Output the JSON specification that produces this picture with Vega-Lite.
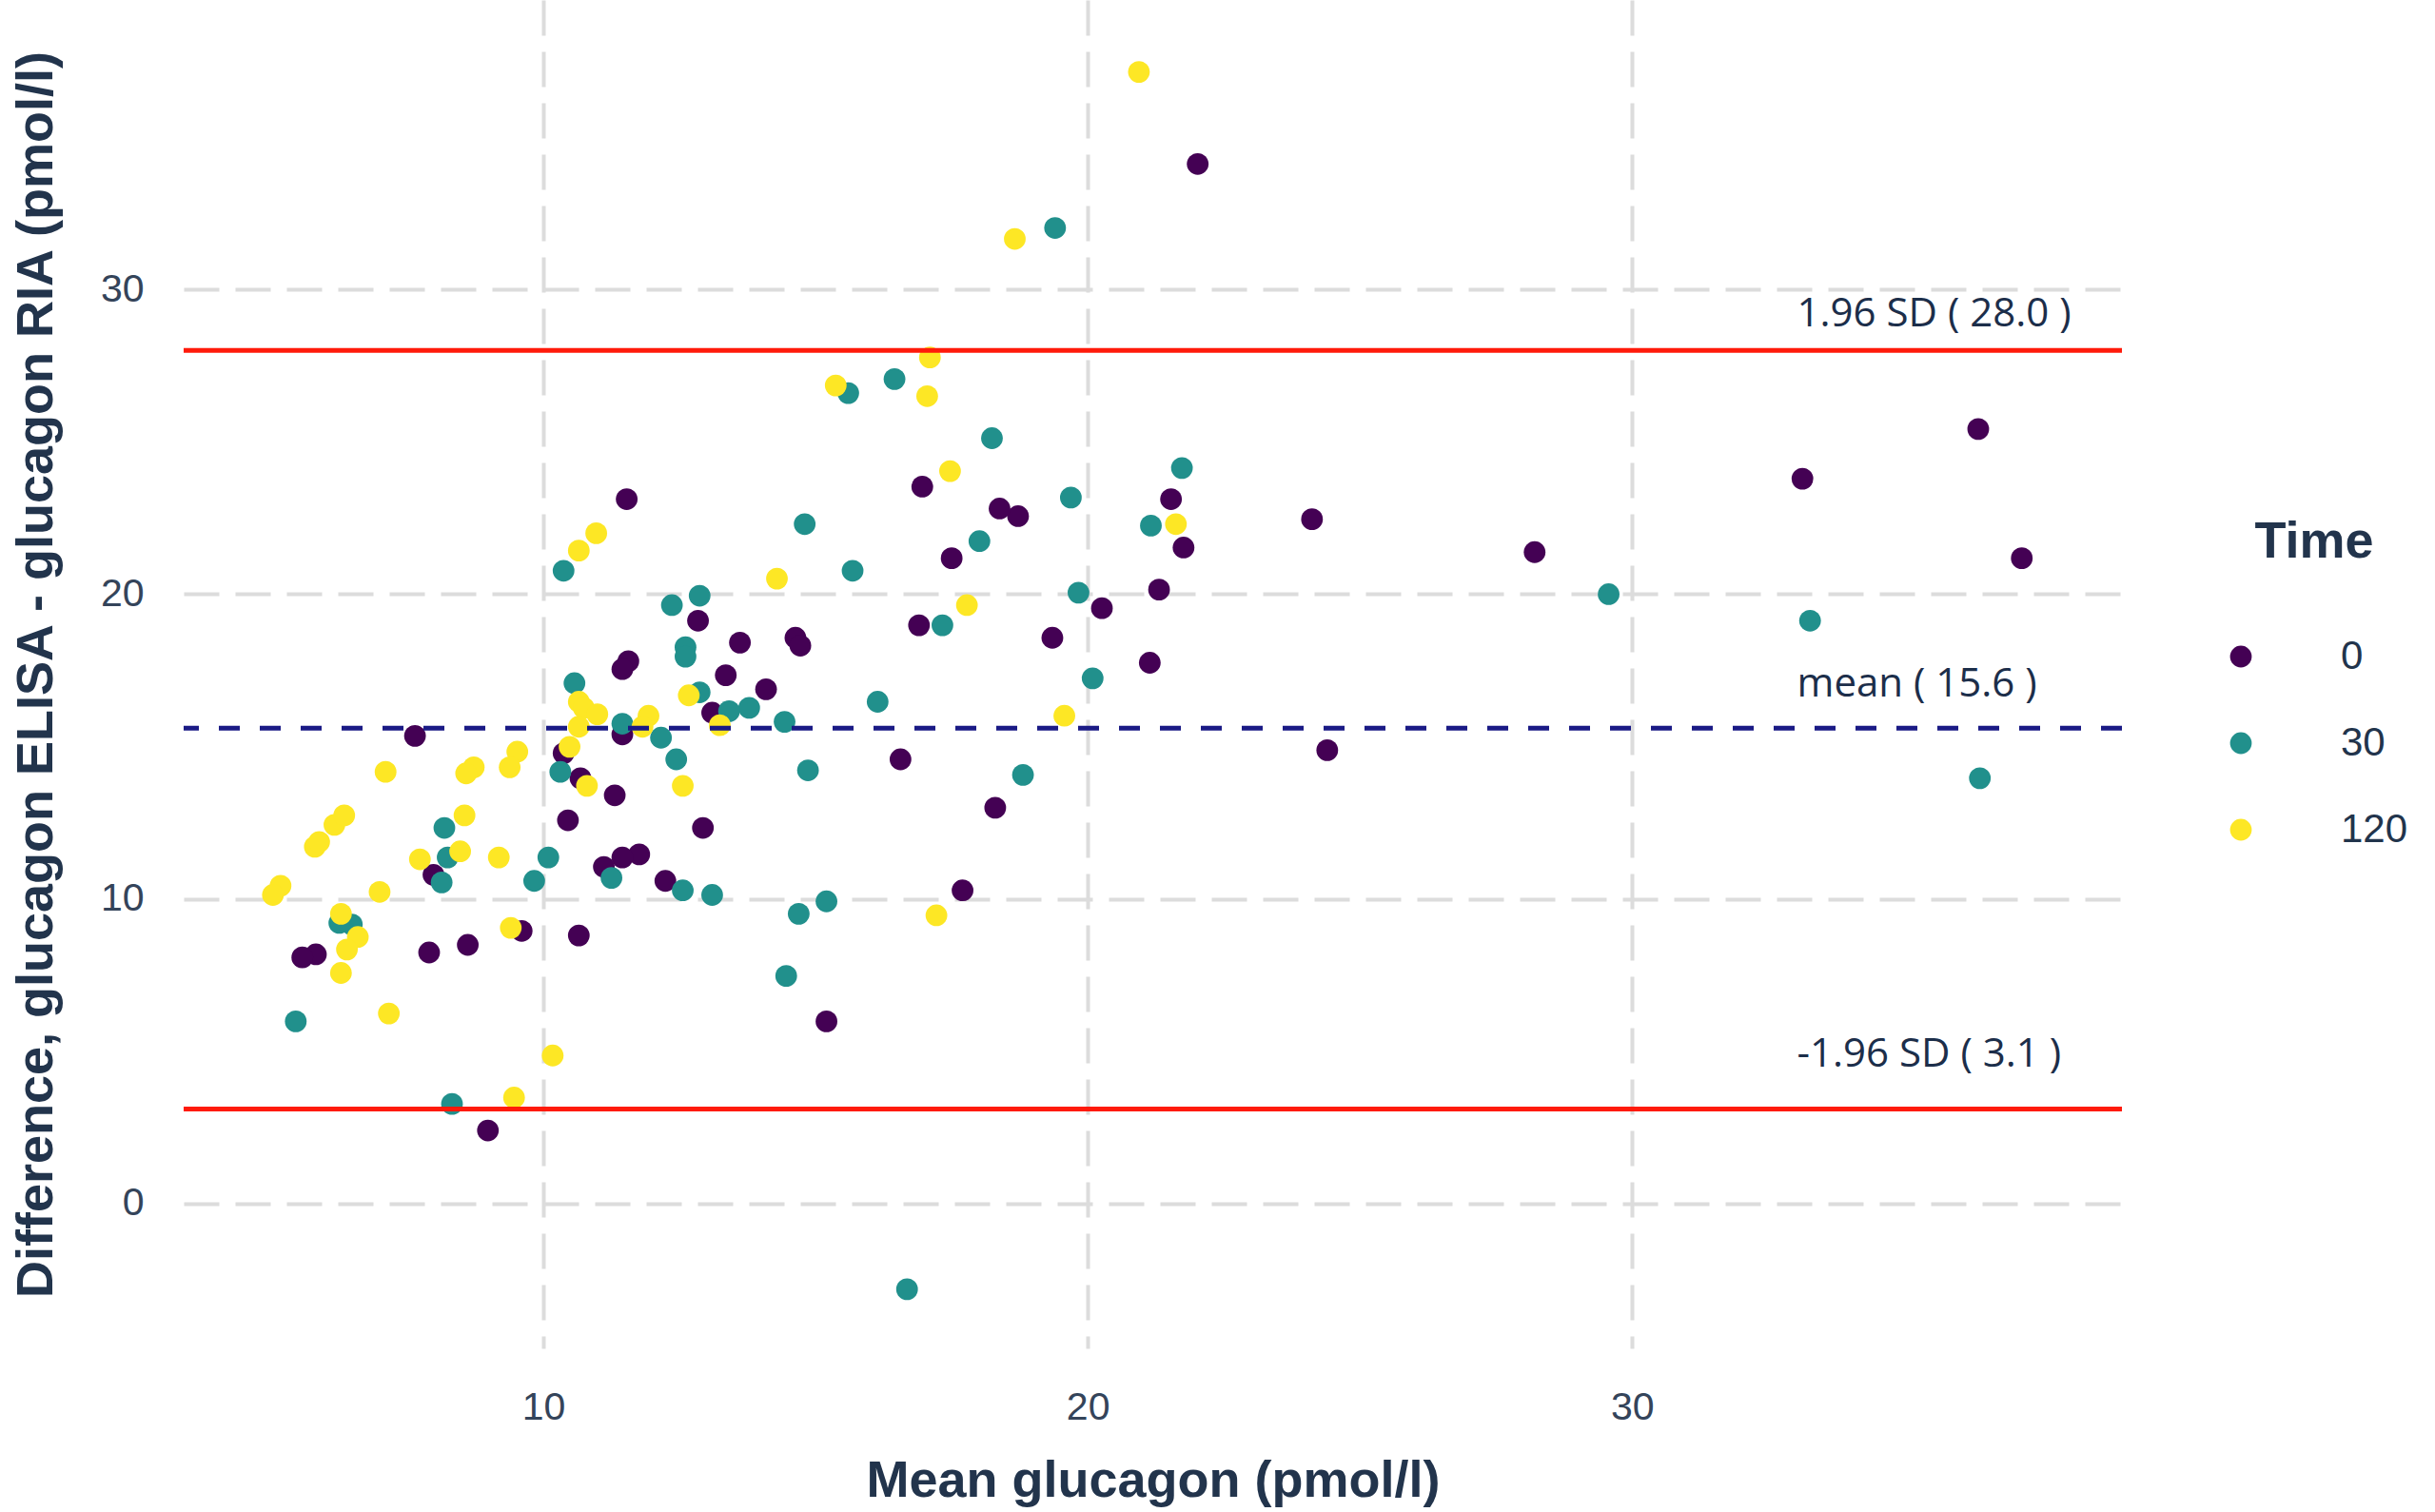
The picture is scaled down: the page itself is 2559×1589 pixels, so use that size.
{
  "$schema": "https://vega.github.io/schema/vega-lite/v6.json",
  "width": 2037,
  "height": 1417,
  "autosize": {"type": "none"},
  "padding": {"left": 193, "top": 0, "right": 329, "bottom": 172},
  "background": "white",
  "config": {
    "view": {"stroke": null},
    "axis": {
      "domain": false,
      "ticks": false,
      "grid": true,
      "gridColor": "#dcdcdc",
      "gridWidth": 4,
      "gridDash": [37, 17],
      "labelFont": "Liberation Sans",
      "labelFontSize": 41,
      "labelColor": "#34445a",
      "labelPadding": 42,
      "titleFont": "Liberation Sans",
      "titleFontSize": 54,
      "titleFontWeight": "bold",
      "titleColor": "#22344c"
    },
    "legend": {
      "titleFont": "Liberation Sans",
      "titleFontSize": 54,
      "titleFontWeight": "bold",
      "titleColor": "#22344c",
      "labelFont": "Liberation Sans",
      "labelFontSize": 42,
      "labelColor": "#22344c"
    }
  },
  "datasets": {
    "points": [
      {"mean": 22.02, "diff": 34.12, "Time": "0"},
      {"mean": 37.16, "diff": 21.18, "Time": "0"},
      {"mean": 36.36, "diff": 25.42, "Time": "0"},
      {"mean": 33.13, "diff": 23.79, "Time": "0"},
      {"mean": 28.21, "diff": 21.38, "Time": "0"},
      {"mean": 24.12, "diff": 22.46, "Time": "0"},
      {"mean": 24.40, "diff": 14.88, "Time": "0"},
      {"mean": 21.76, "diff": 21.53, "Time": "0"},
      {"mean": 21.53, "diff": 23.12, "Time": "0"},
      {"mean": 21.31, "diff": 20.15, "Time": "0"},
      {"mean": 21.14, "diff": 17.75, "Time": "0"},
      {"mean": 20.26, "diff": 19.54, "Time": "0"},
      {"mean": 19.35, "diff": 18.57, "Time": "0"},
      {"mean": 18.72, "diff": 22.56, "Time": "0"},
      {"mean": 18.38, "diff": 22.81, "Time": "0"},
      {"mean": 18.30, "diff": 12.99, "Time": "0"},
      {"mean": 17.50, "diff": 21.18, "Time": "0"},
      {"mean": 17.70, "diff": 10.28, "Time": "0"},
      {"mean": 16.96, "diff": 23.53, "Time": "0"},
      {"mean": 16.90, "diff": 18.98, "Time": "0"},
      {"mean": 16.56, "diff": 14.58, "Time": "0"},
      {"mean": 15.20, "diff": 5.98, "Time": "0"},
      {"mean": 14.63, "diff": 18.57, "Time": "0"},
      {"mean": 14.72, "diff": 18.31, "Time": "0"},
      {"mean": 14.09, "diff": 16.88, "Time": "0"},
      {"mean": 13.61, "diff": 18.41, "Time": "0"},
      {"mean": 13.35, "diff": 17.34, "Time": "0"},
      {"mean": 13.10, "diff": 16.11, "Time": "0"},
      {"mean": 12.84, "diff": 19.13, "Time": "0"},
      {"mean": 12.93, "diff": 12.33, "Time": "0"},
      {"mean": 12.24, "diff": 10.59, "Time": "0"},
      {"mean": 11.53, "diff": 23.12, "Time": "0"},
      {"mean": 11.56, "diff": 17.80, "Time": "0"},
      {"mean": 11.45, "diff": 17.54, "Time": "0"},
      {"mean": 11.45, "diff": 15.40, "Time": "0"},
      {"mean": 11.31, "diff": 13.40, "Time": "0"},
      {"mean": 11.76, "diff": 11.46, "Time": "0"},
      {"mean": 11.45, "diff": 11.36, "Time": "0"},
      {"mean": 11.11, "diff": 11.05, "Time": "0"},
      {"mean": 10.68, "diff": 13.96, "Time": "0"},
      {"mean": 10.37, "diff": 14.78, "Time": "0"},
      {"mean": 10.45, "diff": 12.58, "Time": "0"},
      {"mean": 10.65, "diff": 8.80, "Time": "0"},
      {"mean": 9.60, "diff": 8.95, "Time": "0"},
      {"mean": 8.98, "diff": 2.40, "Time": "0"},
      {"mean": 8.61, "diff": 8.49, "Time": "0"},
      {"mean": 7.90, "diff": 8.24, "Time": "0"},
      {"mean": 7.98, "diff": 10.79, "Time": "0"},
      {"mean": 7.64, "diff": 15.35, "Time": "0"},
      {"mean": 5.82, "diff": 8.18, "Time": "0"},
      {"mean": 5.57, "diff": 8.08, "Time": "0"},
      {"mean": 19.40, "diff": 32.02, "Time": "30"},
      {"mean": 16.45, "diff": 27.06, "Time": "30"},
      {"mean": 15.60, "diff": 26.60, "Time": "30"},
      {"mean": 18.24, "diff": 25.12, "Time": "30"},
      {"mean": 21.73, "diff": 24.14, "Time": "30"},
      {"mean": 19.69, "diff": 23.17, "Time": "30"},
      {"mean": 21.16, "diff": 22.25, "Time": "30"},
      {"mean": 18.01, "diff": 21.74, "Time": "30"},
      {"mean": 14.80, "diff": 22.30, "Time": "30"},
      {"mean": 15.68, "diff": 20.77, "Time": "30"},
      {"mean": 19.83, "diff": 20.05, "Time": "30"},
      {"mean": 29.57, "diff": 20.00, "Time": "30"},
      {"mean": 33.27, "diff": 19.13, "Time": "30"},
      {"mean": 36.39, "diff": 13.96, "Time": "30"},
      {"mean": 20.09, "diff": 17.24, "Time": "30"},
      {"mean": 17.33, "diff": 18.98, "Time": "30"},
      {"mean": 16.14, "diff": 16.47, "Time": "30"},
      {"mean": 18.81, "diff": 14.07, "Time": "30"},
      {"mean": 14.86, "diff": 14.22, "Time": "30"},
      {"mean": 15.20, "diff": 9.92, "Time": "30"},
      {"mean": 14.69, "diff": 9.51, "Time": "30"},
      {"mean": 14.46, "diff": 7.47, "Time": "30"},
      {"mean": 16.68, "diff": -2.81, "Time": "30"},
      {"mean": 14.43, "diff": 15.81, "Time": "30"},
      {"mean": 13.78, "diff": 16.27, "Time": "30"},
      {"mean": 13.41, "diff": 16.16, "Time": "30"},
      {"mean": 12.87, "diff": 19.95, "Time": "30"},
      {"mean": 12.87, "diff": 16.78, "Time": "30"},
      {"mean": 12.61, "diff": 18.26, "Time": "30"},
      {"mean": 12.61, "diff": 17.95, "Time": "30"},
      {"mean": 12.36, "diff": 19.64, "Time": "30"},
      {"mean": 12.44, "diff": 14.58, "Time": "30"},
      {"mean": 12.16, "diff": 15.29, "Time": "30"},
      {"mean": 12.56, "diff": 10.28, "Time": "30"},
      {"mean": 13.10, "diff": 10.13, "Time": "30"},
      {"mean": 11.45, "diff": 15.75, "Time": "30"},
      {"mean": 11.25, "diff": 10.69, "Time": "30"},
      {"mean": 10.37, "diff": 20.77, "Time": "30"},
      {"mean": 10.57, "diff": 17.08, "Time": "30"},
      {"mean": 10.31, "diff": 14.17, "Time": "30"},
      {"mean": 10.09, "diff": 11.36, "Time": "30"},
      {"mean": 9.83, "diff": 10.59, "Time": "30"},
      {"mean": 8.18, "diff": 12.33, "Time": "30"},
      {"mean": 8.24, "diff": 11.36, "Time": "30"},
      {"mean": 8.13, "diff": 10.54, "Time": "30"},
      {"mean": 8.32, "diff": 3.27, "Time": "30"},
      {"mean": 6.48, "diff": 9.16, "Time": "30"},
      {"mean": 6.25, "diff": 9.21, "Time": "30"},
      {"mean": 5.45, "diff": 5.98, "Time": "30"},
      {"mean": 20.94, "diff": 37.14, "Time": "120"},
      {"mean": 18.66, "diff": 31.66, "Time": "120"},
      {"mean": 17.10, "diff": 27.77, "Time": "120"},
      {"mean": 15.37, "diff": 26.85, "Time": "120"},
      {"mean": 17.05, "diff": 26.50, "Time": "120"},
      {"mean": 17.47, "diff": 24.04, "Time": "120"},
      {"mean": 21.62, "diff": 22.30, "Time": "120"},
      {"mean": 17.78, "diff": 19.64, "Time": "120"},
      {"mean": 14.29, "diff": 20.51, "Time": "120"},
      {"mean": 19.57, "diff": 16.01, "Time": "120"},
      {"mean": 17.22, "diff": 9.46, "Time": "120"},
      {"mean": 10.97, "diff": 22.00, "Time": "120"},
      {"mean": 10.65, "diff": 21.43, "Time": "120"},
      {"mean": 13.24, "diff": 15.70, "Time": "120"},
      {"mean": 12.67, "diff": 16.68, "Time": "120"},
      {"mean": 12.56, "diff": 13.71, "Time": "120"},
      {"mean": 11.93, "diff": 16.01, "Time": "120"},
      {"mean": 11.82, "diff": 15.65, "Time": "120"},
      {"mean": 10.65, "diff": 16.47, "Time": "120"},
      {"mean": 10.74, "diff": 16.27, "Time": "120"},
      {"mean": 10.99, "diff": 16.06, "Time": "120"},
      {"mean": 10.65, "diff": 15.65, "Time": "120"},
      {"mean": 10.48, "diff": 14.99, "Time": "120"},
      {"mean": 10.80, "diff": 13.71, "Time": "120"},
      {"mean": 10.17, "diff": 4.86, "Time": "120"},
      {"mean": 9.46, "diff": 3.48, "Time": "120"},
      {"mean": 9.52, "diff": 14.83, "Time": "120"},
      {"mean": 9.38, "diff": 14.32, "Time": "120"},
      {"mean": 9.40, "diff": 9.05, "Time": "120"},
      {"mean": 9.18, "diff": 11.36, "Time": "120"},
      {"mean": 8.72, "diff": 14.32, "Time": "120"},
      {"mean": 8.58, "diff": 14.12, "Time": "120"},
      {"mean": 8.55, "diff": 12.74, "Time": "120"},
      {"mean": 8.47, "diff": 11.56, "Time": "120"},
      {"mean": 7.73, "diff": 11.30, "Time": "120"},
      {"mean": 7.10, "diff": 14.17, "Time": "120"},
      {"mean": 6.99, "diff": 10.23, "Time": "120"},
      {"mean": 7.16, "diff": 6.24, "Time": "120"},
      {"mean": 5.80, "diff": 11.71, "Time": "120"},
      {"mean": 5.88, "diff": 11.87, "Time": "120"},
      {"mean": 6.16, "diff": 12.43, "Time": "120"},
      {"mean": 6.34, "diff": 12.74, "Time": "120"},
      {"mean": 6.59, "diff": 8.75, "Time": "120"},
      {"mean": 6.39, "diff": 8.34, "Time": "120"},
      {"mean": 6.28, "diff": 9.51, "Time": "120"},
      {"mean": 6.28, "diff": 7.57, "Time": "120"},
      {"mean": 5.17, "diff": 10.43, "Time": "120"},
      {"mean": 5.03, "diff": 10.13, "Time": "120"}
    ],
    "lines": [
      {"value": 28.0, "kind": "limit", "label": "1.96 SD ( 28.0 )", "labelX": 33.03, "labelY": 29.2},
      {"value": 15.6, "kind": "mean", "label": "mean ( 15.6 )", "labelX": 33.03, "labelY": 17.05},
      {"value": 3.1, "kind": "limit", "label": "-1.96 SD ( 3.1 )", "labelX": 33.03, "labelY": 4.9}
    ]
  },
  "layer": [
    {
      "data": {"name": "points"},
      "mark": {"type": "circle", "opacity": 1, "size": 520},
      "encoding": {
        "x": {
          "field": "mean", "type": "quantitative",
          "scale": {"domain": [3.39, 39.0], "nice": false, "zero": false},
          "axis": {"values": [10, 20, 30], "format": "d", "title": "Mean glucagon (pmol/l)", "titlePadding": 30}
        },
        "y": {
          "field": "diff", "type": "quantitative",
          "scale": {"domain": [-4.75, 39.5], "nice": false, "zero": false},
          "axis": {"values": [0, 10, 20, 30], "format": "d", "title": "Difference, glucagon ELISA - glucagon RIA (pmol/l)", "titlePadding": 40}
        },
        "color": {
          "field": "Time", "type": "nominal",
          "scale": {"domain": ["0", "30", "120"], "range": ["#440154", "#21908C", "#FDE725"]},
          "legend": {
            "title": "Time",
            "orient": "none",
            "legendX": 2141,
            "legendY": 543,
            "titleAnchor": "middle",
            "titlePadding": 72,
            "symbolType": "circle",
            "symbolSize": 520,
            "symbolStrokeWidth": 0,
            "labelOffset": 84,
            "rowPadding": 49
          }
        }
      }
    },
    {
      "data": {"name": "lines"},
      "transform": [{"filter": "datum.kind === 'limit'"}],
      "mark": {"type": "rule", "color": "#ff1a0a", "strokeWidth": 5},
      "encoding": {"y": {"field": "value", "type": "quantitative"}}
    },
    {
      "data": {"name": "lines"},
      "transform": [{"filter": "datum.kind === 'mean'"}],
      "mark": {"type": "rule", "color": "#1a1a85", "strokeWidth": 5, "strokeDash": [22, 21]},
      "encoding": {"y": {"field": "value", "type": "quantitative"}}
    },
    {
      "data": {"name": "lines"},
      "mark": {"type": "text", "align": "left", "baseline": "middle", "font": "Open Sans", "fontSize": 42, "color": "#1c2e4a"},
      "encoding": {
        "x": {"field": "labelX", "type": "quantitative"},
        "y": {"field": "labelY", "type": "quantitative"},
        "text": {"field": "label"}
      }
    }
  ]
}
